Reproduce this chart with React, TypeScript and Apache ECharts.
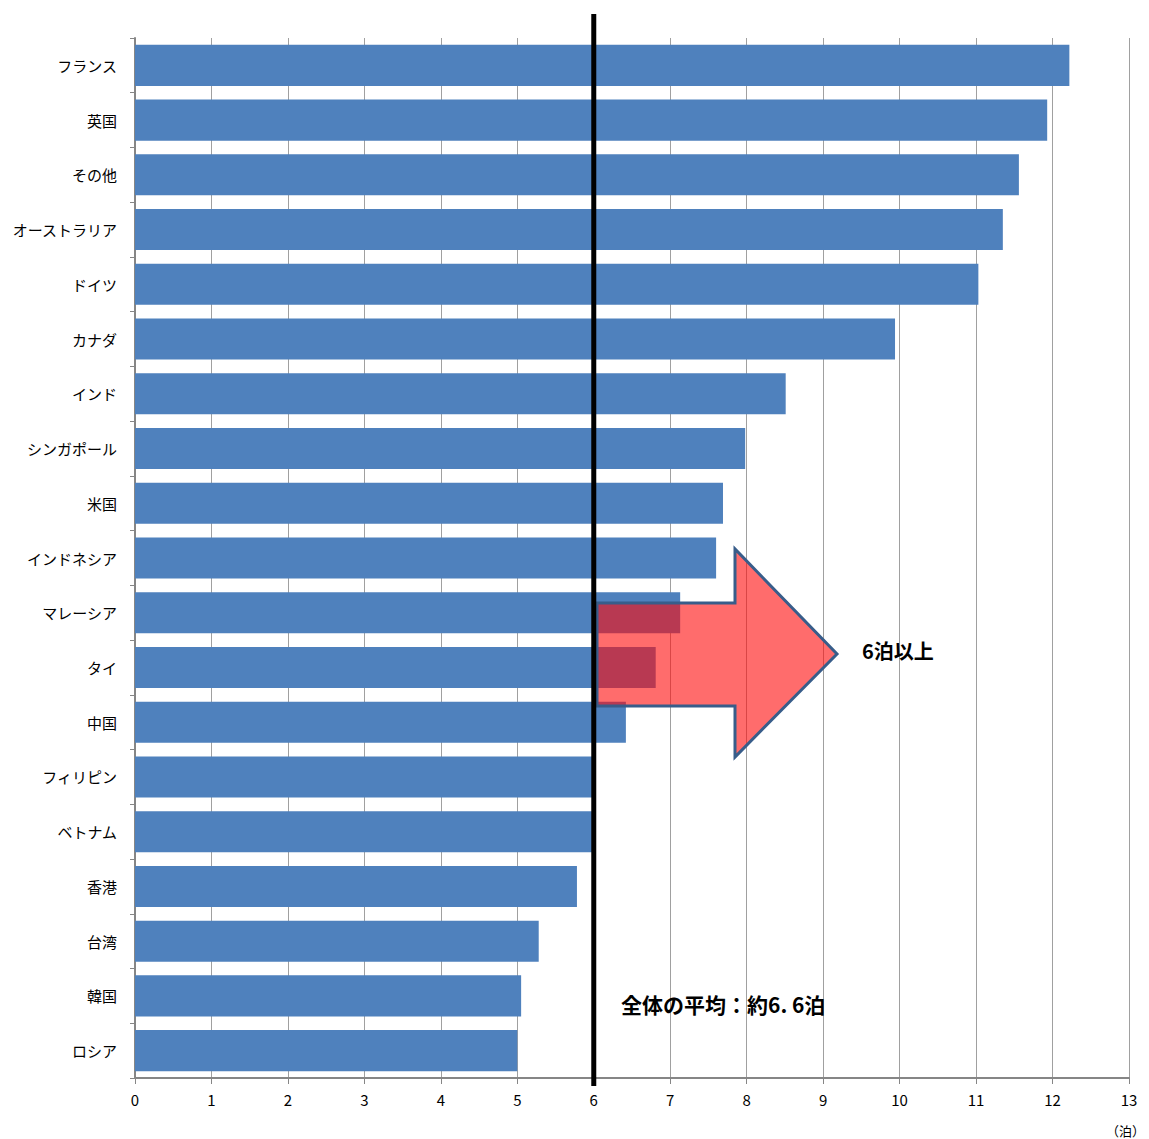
import React, { useEffect, useRef } from "react";
import * as echarts from "echarts";

const categories = [
  "フランス", "英国", "その他", "オーストラリア", "ドイツ", "カナダ", "インド",
  "シンガポール", "米国", "インドネシア", "マレーシア", "タイ", "中国",
  "フィリピン", "ベトナム", "香港", "台湾", "韓国", "ロシア",
];
const nights = [
  12.22, 11.93, 11.56, 11.35, 11.03, 9.94, 8.51,
  7.98, 7.69, 7.6, 7.13, 6.81, 6.42,
  5.99, 5.98, 5.78, 5.28, 5.05, 5.0,
];
const averageLine = 6;
const avgLabel = "全体の平均：約6. 6泊";
const arrowLabel = "6泊以上";
const unitLabel = "（泊）";

export default function App() {
  const ref = useRef<HTMLDivElement>(null);
  useEffect(() => {
    if (!ref.current) return;
    const chart = echarts.init(ref.current, null, { renderer: "svg" });
    const font = "'Noto Sans CJK JP', 'Noto Sans', sans-serif";
    chart.setOption({
      animation: false,
      textStyle: { fontFamily: font },
      grid: { left: 135, right: 20, top: 38, bottom: 61, containLabel: false },
      xAxis: {
        type: "value",
        min: 0,
        max: 13,
        interval: 1,
        axisLine: { show: true, lineStyle: { color: "#868686", width: 2 } },
        axisTick: { show: true, length: 6, lineStyle: { color: "#868686" } },
        axisLabel: { color: "#000", fontSize: 15, margin: 14, fontFamily: font },
        splitLine: { show: true, lineStyle: { color: "#a0a0a0", width: 1 } },
      },
      yAxis: {
        type: "category",
        data: categories,
        inverse: true,
        axisLine: { show: true, lineStyle: { color: "#868686", width: 2 } },
        axisTick: { show: true, length: 5, lineStyle: { color: "#868686" } },
        axisLabel: { color: "#000", fontSize: 15, margin: 18, fontFamily: font },
      },
      series: [
        {
          type: "bar",
          data: nights,
          barCategoryGap: "25%",
          itemStyle: { color: "#4f81bd" },
        },
      ],
    });
    const x6 = chart.convertToPixel({ xAxisIndex: 0 }, averageLine) as number;
    chart.setOption({
      graphic: [
        {
          type: "polygon",
          z: 100,
          shape: {
            points: [
              [597, 603], [735, 603], [735, 549], [837, 654],
              [735, 757], [735, 706], [597, 706],
            ],
          },
          style: { fill: "rgba(255,10,10,0.6)", stroke: "#385d8a", lineWidth: 3 },
        },
        {
          type: "line",
          z: 110,
          shape: { x1: x6, y1: 14, x2: x6, y2: 1086 },
          style: { stroke: "#000", lineWidth: 5 },
        },
        {
          type: "text",
          z: 120,
          left: 862,
          top: 640,
          style: { text: arrowLabel, fill: "#000", font: `bold 20px ${font}` },
        },
        {
          type: "text",
          z: 120,
          left: 621,
          top: 993,
          style: { text: avgLabel, fill: "#000", font: `bold 21px ${font}` },
        },
        {
          type: "text",
          z: 120,
          left: 1106,
          top: 1124,
          style: { text: unitLabel, fill: "#000", font: `13px ${font}` },
        },
      ],
    });
    return () => chart.dispose();
  }, []);
  return <div ref={ref} style={{ width: 1149, height: 1139, position: "absolute", left: 0, top: 0 }} />;
}
